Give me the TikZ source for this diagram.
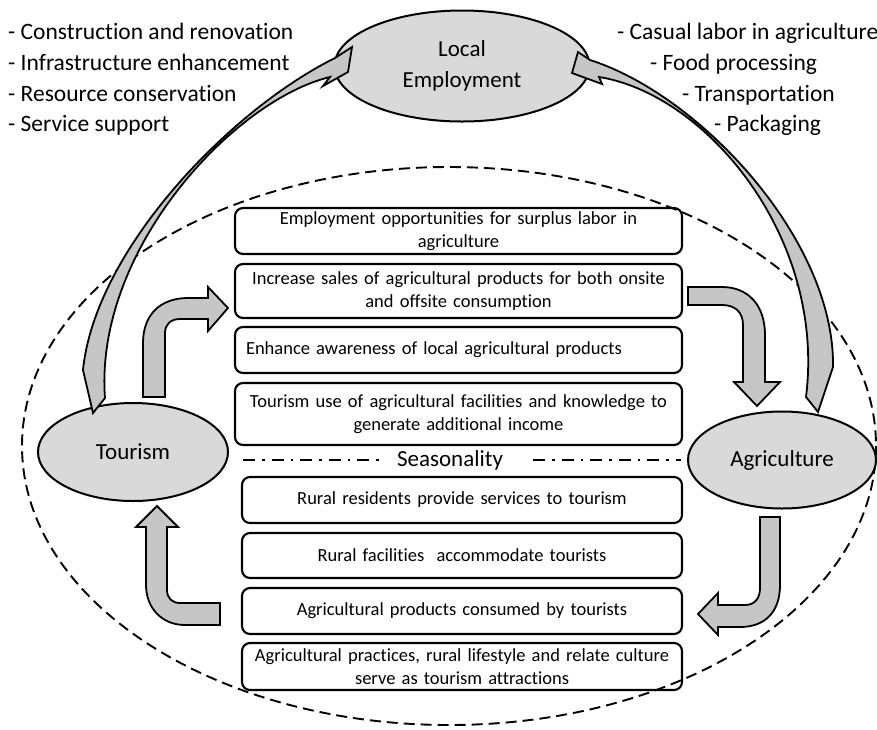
\documentclass[tikz,border=0pt]{standalone}
\usepackage{fontspec}
\setmainfont{Carlito}[Ligatures=NoCommon]
\usepackage{tikz}
\usetikzlibrary{calc,positioning,shapes}

\begin{document}
\begin{tikzpicture}[x=1pt,y=-1pt]

\useasboundingbox (0,0) rectangle (877,729);

\tikzstyle{blob}=[ellipse, draw, line width=2pt, fill=gray!30,
                  inner sep=0pt, align=center,
                  font=\fontsize{23}{31}\selectfont]
\tikzstyle{item}=[rectangle, rounded corners=8pt, draw, line width=2.1pt,
                  inner sep=0pt, align=center, text width=430pt,
                  font=\fontsize{18.5}{23}\selectfont]
\tikzstyle{fat}=[draw, line width=1.8pt, fill=gray!45, line join=miter]
\tikzstyle{list}=[inner sep=0pt, anchor=base west,
                  font=\fontsize{23.5}{30}\selectfont]
\tikzstyle{seasonline}=[line width=2pt, dash pattern=on 12pt off 7pt on 2.5pt off 7pt]

% the big dashed region
\draw[line width=1.9pt, dash pattern=on 11pt off 6pt] (449,446) ellipse [x radius=427, y radius=279];

% the three actors
\node[blob, minimum width=255pt, minimum height=111pt] (E) at (462,66) {Local\\Employment};
\node[blob, minimum width=190pt, minimum height=98pt] (T) at (133,452) {Tourism};
\node[blob, minimum width=188pt, minimum height=97pt] (A) at (782,460) {Agriculture};

% what each side brings to local jobs
\foreach \n/\y/\t in {1/39/Construction and renovation,2/70.5/Infrastructure enhancement,
                      3/101/Resource conservation,4/131.5/Service support}
  {\node[list] (l\n) at (8,\y) {- \t};}
\foreach \n/\x/\y/\t in {1/617/39/Casual labor in agriculture,2/650/70.5/Food processing,
                         3/682/101/Transportation,4/714/131.5/Packaging}
  {\node[list] (r\n) at (\x,\y) {- \t};}

% tourism -> agriculture
\node[item, minimum width=447pt, minimum height=46pt] (b1) at (458.5,231) {Employment opportunities for surplus labor in\\agriculture};
\node[item, minimum width=447pt, minimum height=54pt] (b2) at (458.5,291) {Increase sales of agricultural products for both onsite\\and offsite consumption};
\node[item, minimum width=447pt, minimum height=46pt, align=left, text width=425pt] (b3) at (458.5,350) {Enhance awareness of local agricultural products};
\node[item, minimum width=447pt, minimum height=62pt] (b4) at (458.5,414) {Tourism use of agricultural facilities and knowledge to\\generate additional income};

\node[inner sep=0pt, anchor=base, font=\fontsize{23}{28}\selectfont] (S) at (450,466) {Seasonality};
\draw[seasonline] (243,460) -- (380,460);
\draw[seasonline] (533,460) -- (681,460);

% agriculture -> tourism
\node[item, minimum width=440pt, minimum height=46pt] (b5) at (462,500) {Rural residents provide services to tourism};
\node[item, minimum width=440pt, minimum height=45pt] (b6) at (462,555.5) {Rural facilities~ accommodate tourists};
\node[item, minimum width=440pt, minimum height=46pt] (b7) at (462,611) {Agricultural products consumed by tourists};
\node[item, minimum width=440pt, minimum height=47pt] (b8) at (462,666.5) {Agricultural practices, rural lifestyle and relate culture\\serve as tourism attractions};

% block arrows round the loop
\draw[fat] (143,397) -- (143,343) .. controls (143,315) and (160,298) .. (188,298)
  -- (208,298) -- (208,287) -- (228,308) -- (208,331) -- (208,319) -- (180,319)
  .. controls (170,319) and (165,325) .. (165,333) -- (165,397) -- cycle;
\draw[fat] (688,287) -- (722,287) .. controls (748,287) and (765,305) .. (765,335)
  -- (765,382) -- (780,382) -- (757,406) -- (734,382) -- (743,382) -- (743,325)
  .. controls (743,312) and (735,305) .. (722,305) -- (688,305) -- cycle;
\draw[fat] (760,517) -- (780,517) -- (780,585) .. controls (780,612) and (765,627) .. (740,627)
  -- (718,627) -- (718,635) -- (698,614) -- (718,593) -- (718,605) -- (745,605)
  .. controls (755,605) and (760,598) .. (760,588) -- cycle;
\draw[fat] (220,603) -- (220,625) -- (185,625) .. controls (162,625) and (146,608) .. (146,585)
  -- (146,527) -- (136,527) -- (157,506) -- (178,527) -- (167,527) -- (167,590)
  .. controls (167,598) and (172,603) .. (180,603) -- cycle;

% curved arrows up to local employment
\draw[fat] (93,413) -- (105,398) .. controls (94,250) and (234,100) .. (330,77)
  -- (323,86) -- (348,72) -- (352,47) -- (335,58)
  .. controls (230,110) and (95,250) .. (83,370) -- cycle;
\draw[fat] (818,412) -- (833,367) .. controls (835,240) and (700,95) .. (590,60)
  -- (578,52) -- (572,73) -- (602,84) -- (599,77)
  .. controls (706,94) and (826,237) .. (806,397) -- cycle;

\end{tikzpicture}
\end{document}
